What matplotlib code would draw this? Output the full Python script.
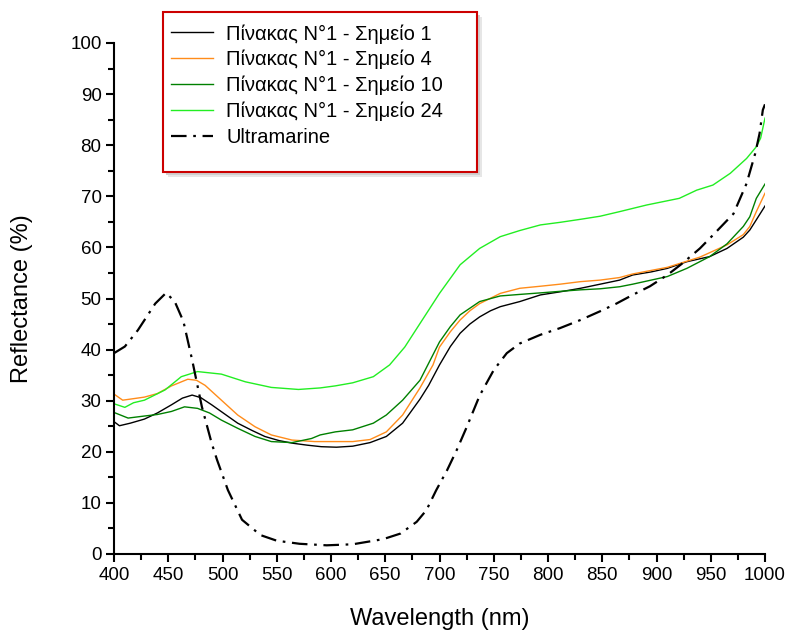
import matplotlib
matplotlib.use("Agg")
import matplotlib.pyplot as plt
from matplotlib.patches import Rectangle
from matplotlib.ticker import MultipleLocator

plt.rcParams['font.family'] = ['Liberation Sans', 'DejaVu Sans']

# Σημείο 1 (black)
wl_s1 = [400, 405, 415, 428, 440, 453, 463, 472, 480, 490, 502, 514, 527, 539, 552, 564, 578, 591,
         605, 620, 636, 651, 666, 682, 690, 700, 710, 719, 728, 737, 747, 756, 774, 793, 811, 830,
         848, 866, 878, 895, 910, 928, 949, 965, 980, 986, 992, 1000]
r_s1 = [25.9, 25.1, 25.6, 26.4, 27.6, 29.2, 30.5, 31.1, 30.6, 29.2, 27.4, 25.6, 24.2, 23.0, 22.2, 21.7,
        21.3, 21.0, 20.9, 21.1, 21.8, 23.0, 25.6, 30.3, 33.0, 37.0, 40.6, 43.2, 45.0, 46.4, 47.6, 48.4,
        49.4, 50.7, 51.3, 52.0, 52.8, 53.6, 54.6, 55.2, 55.9, 57.2, 58.2, 59.8, 62.0, 63.4, 65.4, 68.1]

# Σημείο 4 (orange)
wl_s4 = [400, 408, 418, 428, 440, 453, 468, 476, 484, 499, 514, 530, 545, 564, 585, 604, 620, 636,
         651, 666, 682, 694, 700, 710, 719, 728, 737, 756, 774, 793, 811, 830, 848, 866, 878, 910,
         940, 965, 980, 986, 992, 1000]
r_s4 = [31.3, 30.1, 30.4, 30.7, 31.4, 32.9, 34.2, 34.0, 33.0, 30.1, 27.2, 24.9, 23.3, 22.3, 22.0, 22.0,
        22.0, 22.4, 23.9, 27.2, 32.5, 37.0, 40.5, 43.5, 45.8, 47.6, 49.0, 51.0, 52.0, 52.4, 52.8, 53.3,
        53.6, 54.1, 54.8, 56.1, 58.1, 60.5, 62.5, 64.1, 67.0, 70.6]

# Σημείο 10 (dark green)
wl_s10 = [400, 413, 428, 440, 453, 465, 477, 488, 499, 514, 530, 545, 564, 582, 590, 604, 620, 639,
          651, 666, 682, 700, 710, 719, 737, 756, 774, 793, 811, 830, 848, 866, 878, 910, 928, 949,
          965, 980, 986, 992, 1000]
r_s10 = [27.7, 26.6, 27.0, 27.3, 27.9, 28.8, 28.5, 27.6, 26.2, 24.6, 23.0, 22.0, 21.8, 22.6, 23.3, 23.9,
         24.3, 25.6, 27.2, 30.1, 34.0, 41.5, 44.5, 46.8, 49.4, 50.5, 50.8, 51.1, 51.4, 51.7, 51.9, 52.3,
         52.8, 54.3, 55.9, 58.2, 60.7, 64.1, 66.0, 69.6, 72.4]

# Σημείο 24 (light green)
wl_s24 = [400, 410, 418, 428, 447, 462, 477, 499, 521, 545, 570, 590, 604, 620, 639, 654, 668, 682,
          700, 719, 737, 756, 774, 793, 811, 830, 848, 866, 891, 921, 937, 952, 968, 983, 992, 996, 1000]
r_s24 = [29.4, 28.7, 29.6, 30.1, 32.1, 34.7, 35.7, 35.2, 33.7, 32.6, 32.2, 32.5, 32.9, 33.5, 34.7, 37.0,
         40.5, 45.1, 51.0, 56.6, 59.8, 62.1, 63.3, 64.4, 64.9, 65.5, 66.1, 67.0, 68.3, 69.6, 71.2, 72.2,
         74.5, 77.4, 79.7, 81.4, 85.3]

# Ultramarine reference
wl_um = [400, 410, 422, 438, 448, 456, 464, 472, 481, 490, 495, 505, 518, 535, 550, 571, 596, 620,
         648, 664, 679, 688, 697, 707, 716, 725, 737, 750, 762, 774, 793, 811, 830, 848, 863, 878,
         894, 910, 924, 940, 952, 971, 983, 991, 995, 998, 1000]
r_um = [39.3, 40.6, 43.8, 49.0, 51.1, 49.4, 45.5, 38.0, 28.8, 21.7, 18.4, 12.5, 6.7, 3.7, 2.6, 2.0, 1.7,
        1.9, 2.9, 4.0, 6.3, 8.6, 12.5, 16.4, 20.4, 24.8, 31.0, 36.0, 39.3, 41.2, 42.9, 44.2, 45.8, 47.5,
        49.0, 50.7, 52.4, 54.6, 56.9, 59.8, 62.4, 66.6, 72.5, 78.4, 82.3, 86.9, 88.0]

W, H = 787, 635
fig = plt.figure(figsize=(W / 100, H / 100), dpi=100)
ax = fig.add_axes([114 / W, 81 / H, 651 / W, 511 / H])

ax.plot(wl_s1, r_s1, color='black', lw=1.0, label='Πίνακας Ν°1 - Σημείο 1')
ax.plot(wl_s4, r_s4, color='#ff8c1a', lw=1.0, label='Πίνακας Ν°1 - Σημείο 4')
ax.plot(wl_s10, r_s10, color='#008000', lw=1.0, label='Πίνακας Ν°1 - Σημείο 10')
ax.plot(wl_s24, r_s24, color='#22ee22', lw=1.0, label='Πίνακας Ν°1 - Σημείο 24')
ax.plot(wl_um, r_um, color='black', lw=1.6, linestyle=(0, (7, 3, 1.2, 3)), label='Ultramarine')

ax.set_xlim(400, 1000)
ax.set_ylim(0, 100)
ax.xaxis.set_major_locator(MultipleLocator(50))
ax.xaxis.set_minor_locator(MultipleLocator(25))
ax.yaxis.set_major_locator(MultipleLocator(10))
ax.yaxis.set_minor_locator(MultipleLocator(5))
for s in ['top', 'right']:
    ax.spines[s].set_visible(False)
for s in ['left', 'bottom']:
    ax.spines[s].set_linewidth(1.5)
ax.tick_params(which='major', length=6, width=1.5, labelsize=13.5, pad=3)
ax.tick_params(which='minor', length=4, width=1.5)

ax.set_xlabel('Wavelength (nm)', fontsize=17)
ax.set_ylabel('Reflectance (%)', fontsize=17)
ax.xaxis.set_label_coords(0.5, -0.105)
ax.yaxis.set_label_coords(-0.124, 0.5)

# legend frame drawn like the Origin box: red edge with a soft grey shadow
x0, y0, w, h = 163 / W, 1 - 172 / H, 314 / W, 160 / H
for k, c in [(5, '#e6e6e6'), (3, '#d0d0d0')]:
    fig.patches.append(Rectangle((x0 + k / W, y0 - k / H), w, h, transform=fig.transFigure,
                                 facecolor=c, edgecolor='none', zorder=5))
fig.patches.append(Rectangle((x0, y0), w, h, transform=fig.transFigure,
                             facecolor='white', edgecolor='#cc0000', lw=1.5, zorder=6))

leg = fig.legend(loc='upper left', bbox_to_anchor=(171 / W, 1 - 24 / H), frameon=False,
                 fontsize=14.5, handlelength=2.1, handletextpad=0.65, labelspacing=0.32,
                 borderpad=0, borderaxespad=0)
leg.set_zorder(7)

fig.savefig('out.png', dpi=100)
